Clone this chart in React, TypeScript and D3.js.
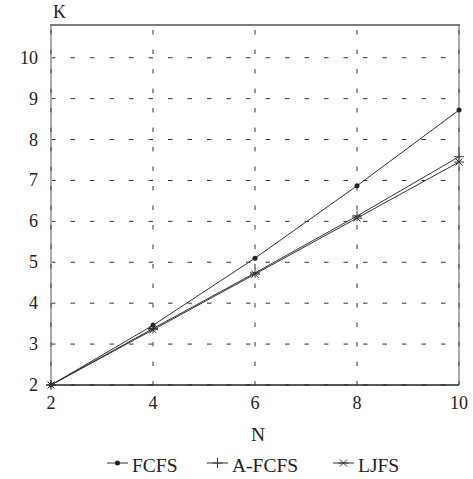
import * as d3 from "d3";

const nValues = [2, 4, 6, 8, 10];
const fcfs = [2.0, 3.46, 5.1, 6.87, 8.72];
const aFcfs = [2.0, 3.38, 4.74, 6.13, 7.58];
const ljfs = [2.0, 3.35, 4.71, 6.08, 7.45];
const yTicks = [2, 3, 4, 5, 6, 7, 8, 9, 10];
const xTicks = [2, 4, 6, 8, 10];

const width = 473;
const height = 479;
const margin = { top: 25, right: 14, bottom: 94, left: 51 };
const innerW = width - margin.left - margin.right;
const innerH = height - margin.top - margin.bottom;

const x = d3.scaleLinear().domain([2, 10]).range([0, innerW]);
const y = d3.scaleLinear().domain([2, 10.8]).range([innerH, 0]);

const FONT = "'Liberation Serif', 'Times New Roman', Tinos, serif";
const LINE = "#333";
const DASH = "4.5 15";

type Marker = "dot" | "plus" | "star";

const series: { name: string; values: number[]; marker: Marker }[] = [
  { name: "FCFS", values: fcfs, marker: "dot" },
  { name: "A-FCFS", values: aFcfs, marker: "plus" },
  { name: "LJFS", values: ljfs, marker: "star" },
];

function MarkerShape({ type, cx, cy }: { type: Marker; cx: number; cy: number }) {
  if (type === "dot") return <circle cx={cx} cy={cy} r={2.5} fill="#222" />;
  const s = 5;
  if (type === "plus")
    return (
      <g stroke="#333" strokeWidth={1}>
        <line x1={cx - s} x2={cx + s} y1={cy} y2={cy} />
        <line x1={cx} x2={cx} y1={cy - s} y2={cy + s} />
      </g>
    );
  return (
    <g stroke="#333" strokeWidth={1}>
      <line x1={cx - s} x2={cx + s} y1={cy} y2={cy} />
      <line x1={cx - s * 0.7} x2={cx + s * 0.7} y1={cy - s * 0.7} y2={cy + s * 0.7} />
      <line x1={cx - s * 0.7} x2={cx + s * 0.7} y1={cy + s * 0.7} y2={cy - s * 0.7} />
    </g>
  );
}

export default function App() {
  const line = d3
    .line<number>()
    .x((_, i) => x(nValues[i]))
    .y((d) => y(d));

  const legendItems = [
    { label: "FCFS", marker: "dot" as Marker, x: 107 },
    { label: "A-FCFS", marker: "plus" as Marker, x: 207 },
    { label: "LJFS", marker: "star" as Marker, x: 333 },
  ];

  return (
    <svg
      width={width}
      height={height}
      style={{ position: "absolute", left: 0, top: 0, background: "#fff", fontFamily: FONT }}
    >
      <g transform={`translate(${margin.left},${margin.top})`}>
        {/* horizontal grid */}
        {yTicks.map((t) => (
          <line
            key={`hy${t}`}
            x1={0}
            x2={innerW}
            y1={y(t)}
            y2={y(t)}
            stroke="#333"
            strokeWidth={1}
            strokeDasharray={DASH}
          />
        ))}
        {/* left & right borders: light solid under darker dashes */}
        {[0, innerW].map((px) => (
          <line key={`b${px}`} x1={px} x2={px} y1={0} y2={innerH} stroke="#aaa" strokeWidth={2} />
        ))}
        {/* vertical grid */}
        {xTicks.map((t) => (
          <line
            key={`vx${t}`}
            x1={x(t)}
            x2={x(t)}
            y1={0}
            y2={innerH}
            stroke="#777"
            strokeWidth={t === 2 || t === 10 ? 2 : 1.5}
            strokeDasharray={DASH}
            strokeDashoffset={-5}
          />
        ))}
        {/* frame */}
        <line x1={-1} x2={innerW + 1} y1={0} y2={0} stroke="#555" strokeWidth={1.5} />
        <line x1={0} x2={innerW} y1={innerH} y2={innerH} stroke="#222" strokeWidth={1.3} />

        {/* y tick labels */}
        {yTicks.map((t) => (
          <text
            key={`ty${t}`}
            x={-13}
            y={y(t)}
            textAnchor="end"
            dominantBaseline="central"
            fontSize={18}
            fill="#222"
          >
            {t}
          </text>
        ))}
        {/* x tick labels */}
        {xTicks.map((t) => (
          <text
            key={`tx${t}`}
            x={x(t)}
            y={innerH + 24}
            textAnchor="middle"
            fontSize={18}
            fill="#222"
          >
            {t}
          </text>
        ))}

        {/* series */}
        {series.map((s) => (
          <g key={s.name}>
            <path d={line(s.values) ?? ""} fill="none" stroke={LINE} strokeWidth={1} />
            {s.values.map((v, i) => (
              <MarkerShape key={i} type={s.marker} cx={x(nValues[i])} cy={y(v)} />
            ))}
          </g>
        ))}
      </g>

      {/* axis titles */}
      <text x={53} y={18} fontSize={18} fill="#222">
        K
      </text>
      <text x={258} y={441} textAnchor="middle" fontSize={19.5} fill="#222">
        N
      </text>

      {/* legend */}
      {legendItems.map((it) => (
        <g key={it.label}>
          <line x1={it.x} x2={it.x + 21} y1={463} y2={463} stroke={LINE} strokeWidth={1} />
          <MarkerShape type={it.marker} cx={it.x + 10.5} cy={463} />
          <text x={it.x + 25} y={472} fontSize={19.5} fill="#222">
            {it.label}
          </text>
        </g>
      ))}
    </svg>
  );
}
